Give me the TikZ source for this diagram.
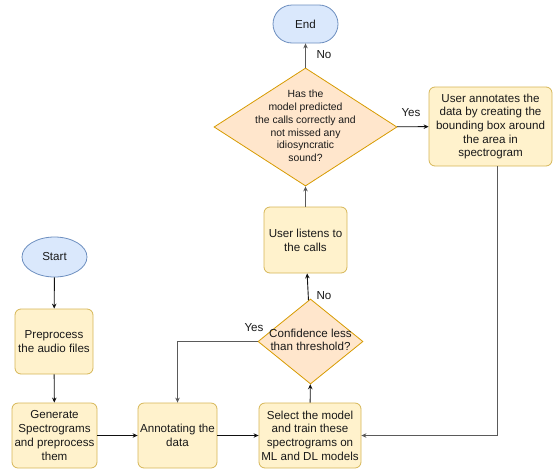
\documentclass[tikz,border=0pt]{standalone}
\usepackage{fontspec}
\setmainfont{Liberation Sans}
\usetikzlibrary{shapes.geometric,arrows.meta}
\definecolor{boxfill}{HTML}{FFF2CC}
\definecolor{boxline}{HTML}{D6B656}
\definecolor{endfill}{HTML}{DAE8FC}
\definecolor{endline}{HTML}{6C8EBF}
\definecolor{decfill}{HTML}{FFE6CC}
\definecolor{decline}{HTML}{D79B00}
\definecolor{lnk}{HTML}{111111}
\definecolor{lnkgray}{HTML}{5A5A5A}
% text kept out of the diamond size
\newcommand{\dtext}[1]{\makebox[0pt]{\smash{\raisebox{-0.25em}{\begin{tabular}{@{}c@{}}#1\end{tabular}}}}}
\tikzset{
  every node/.style={inner sep=0pt, text=black!90},
  proc/.style={draw=boxline, fill=boxfill, line width=0.8pt, rounded corners=6pt, align=center,
    font=\fontsize{11.6}{13.7}\selectfont},
  term/.style={draw=endline, fill=endfill, line width=0.8pt, font=\fontsize{11.6}{13.7}\selectfont},
  decision/.style={diamond, draw=decline, fill=decfill, line width=0.8pt, align=center},
  lbl/.style={font=\fontsize{11.6}{13.7}\selectfont},
  flow/.style={draw=lnk, line width=0.9pt, -{Stealth[length=5pt,width=4.5pt]}},
  flowg/.style={draw=lnkgray, line width=1.3pt, -{Stealth[length=5pt,width=4.5pt]}}
}
\begin{document}
\begin{tikzpicture}[x=1pt,y=-1pt]
\useasboundingbox (0,0) rectangle (556,474);
% nodes
\node [term, rounded corners=19pt, minimum width=65pt, minimum height=38pt] (finish) at (305.5,24) {End};
\node [decision, minimum width=183pt, minimum height=118pt] (check) at (305.5,127)
  {\fontsize{10.4}{12.8}\selectfont\dtext{Has the\\model predicted\\the calls correctly and\\not missed any\\idiosyncratic\\sound?}};
\node [proc, minimum width=123pt, minimum height=79pt] (annotbox) at (490.5,126.5)
  {User annotates the\\data by creating the\\bounding box around\\the area in\\spectrogram};
\node [proc, minimum width=83pt, minimum height=66pt] (listen) at (305.5,240) {User listens to\\the calls};
\node [decision, minimum width=105pt, minimum height=85pt] (conf) at (310.5,341.5)
  {\fontsize{11.6}{13.7}\selectfont\dtext{Confidence less\\than threshold?}};
\node [term, ellipse, minimum width=65pt, minimum height=40pt] (start) at (54.5,257) {Start};
\node [proc, minimum width=78pt, minimum height=65pt] (prep) at (54,341.5) {Preprocess\\the audio files};
\node [proc, minimum width=85pt, minimum height=65pt] (spec) at (54.5,435.5) {Generate\\Spectrograms\\and preprocess\\them};
\node [proc, minimum width=79pt, minimum height=65pt] (annot) at (177.5,435.5) {Annotating the\\data};
\node [proc, minimum width=102pt, minimum height=65pt] (train) at (310,435.5) {Select the model\\and train these\\spectrograms on\\ML and DL models};
% connectors
\draw [flow] (start) -- (prep);
\draw [flow] (prep) -- (spec);
\draw [flow] (spec) -- (annot);
\draw [flow] (annot) -- (train);
\draw [flow] (train) -- (conf);
\draw [flow] (conf) -- (listen);
\draw [flowg] (listen) -- (check);
\draw [flowg] (check) -- (finish);
\draw [flow] (check) -- (annotbox);
\draw [flowg] ([xshift=7pt]annotbox.south) |- (train.east);
\draw [flowg] (conf.west) -| (annot.north);
% labels
\node [lbl] (nofinish) at (324,55) {No};
\node [lbl] (yesannot) at (411,113) {Yes};
\node [lbl] (nolisten) at (324,296) {No};
\node [lbl] (yesconf) at (254,328) {Yes};
\end{tikzpicture}
\end{document}
